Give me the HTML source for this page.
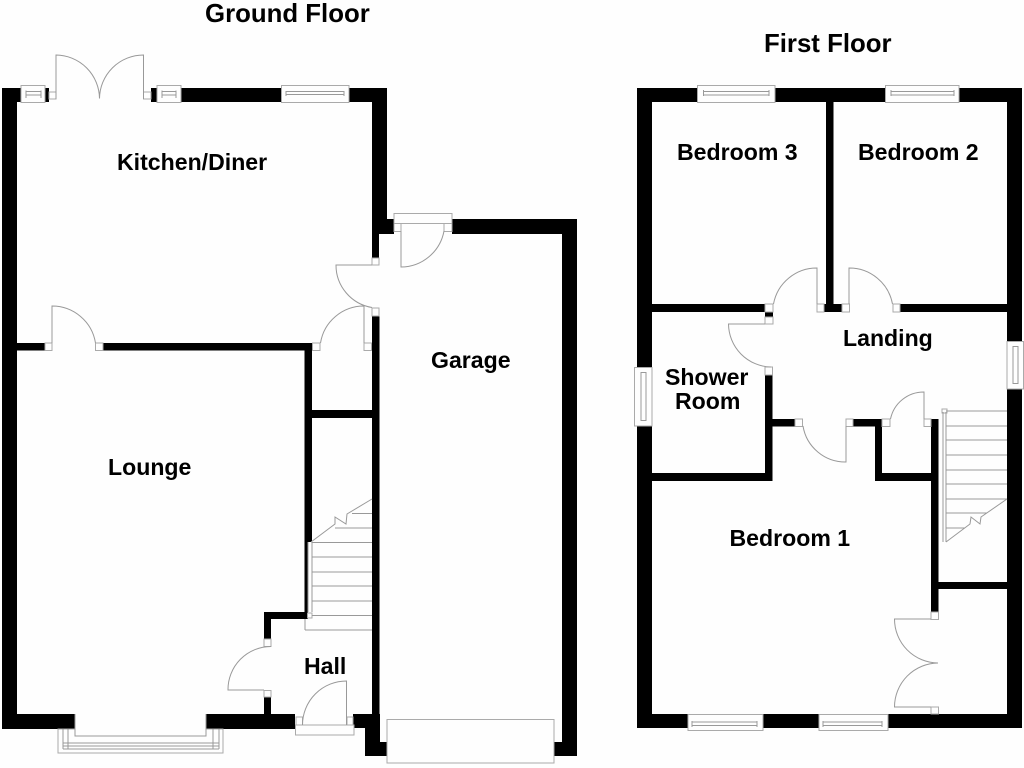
<!DOCTYPE html>
<html><head><meta charset="utf-8"><style>
html,body{margin:0;padding:0;background:#fefefe}
svg{display:block}
text{font-family:"Liberation Sans",Arial,sans-serif;font-weight:bold;font-size:23.1px;fill:#000}
.t{font-size:25.8px}
.k{fill:#000;stroke:none}
.l{fill:none;stroke:#999;stroke-width:1}
.w{fill:#fefefe;stroke:#aaa;stroke-width:1}
</style></head><body>
<svg width="1024" height="768" viewBox="0 0 1024 768" xmlns="http://www.w3.org/2000/svg">
<rect width="1024" height="768" fill="#fefefe"/>
<text class="t" x="205" y="22">Ground Floor</text>
<text class="t" x="764" y="52">First Floor</text>
<text x="117" y="170">Kitchen/Diner</text>
<text x="108" y="475">Lounge</text>
<text x="431" y="368">Garage</text>
<text x="304" y="674">Hall</text>
<text x="677" y="160">Bedroom 3</text>
<text x="858" y="160">Bedroom 2</text>
<text x="843" y="346">Landing</text>
<text x="665" y="385">Shower</text>
<text x="675" y="409">Room</text>
<text x="729.5" y="546">Bedroom 1</text>

<g class="k">
<!-- ground floor walls -->
<rect x="2" y="88" width="15" height="641"/>
<rect x="2" y="88" width="19" height="14"/>
<rect x="45" y="88" width="4" height="14"/>
<rect x="151" y="88" width="6" height="14"/>
<rect x="181" y="88" width="100" height="14"/>
<rect x="349" y="88" width="38" height="14"/>
<rect x="372" y="88" width="15" height="146"/>
<rect x="372" y="219" width="22" height="15"/>
<rect x="372" y="219" width="7" height="39"/>
<rect x="372" y="316" width="7.5" height="412"/>
<rect x="17" y="343" width="28" height="7.5"/>
<rect x="103" y="343" width="209" height="7.5"/>
<rect x="304.500" y="343" width="7.500" height="199"/>
<rect x="304.500" y="542" width="3.500" height="77"/>
<rect x="312" y="410" width="60" height="8"/>
<rect x="264" y="612" width="41" height="7"/>
<rect x="264" y="612" width="7" height="27"/>
<rect x="264" y="697" width="7" height="17"/>
<rect x="2" y="714" width="73" height="15"/>
<rect x="206" y="714" width="89" height="15"/>
<rect x="353" y="714" width="26" height="14"/>
<rect x="365" y="714" width="15" height="42"/>
<rect x="365" y="742" width="22" height="14"/>
<rect x="554" y="742" width="23" height="14"/>
<rect x="562" y="219" width="15" height="537"/>
<rect x="452" y="219" width="125" height="15"/>
<!-- first floor walls -->
<rect x="637" y="88" width="15" height="279"/>
<rect x="637" y="426" width="15" height="302"/>
<rect x="637" y="88" width="60" height="14"/>
<rect x="775" y="88" width="110" height="14"/>
<rect x="959" y="88" width="63" height="14"/>
<rect x="1007" y="88" width="15" height="253"/>
<rect x="1007" y="389" width="15" height="339"/>
<rect x="826" y="88" width="7.500" height="216"/>
<rect x="824" y="304" width="18" height="8"/>
<rect x="652" y="304" width="113" height="8"/>
<rect x="765" y="312" width="8" height="5"/>
<rect x="900" y="304" width="107" height="8"/>
<rect x="765" y="375" width="7.500" height="106"/>
<rect x="652" y="473" width="120.500" height="8"/>
<rect x="772" y="419" width="23" height="7.500"/>
<rect x="853" y="419" width="29" height="7.500"/>
<rect x="875" y="419" width="7" height="62"/>
<rect x="875" y="473" width="63" height="8"/>
<rect x="931" y="419" width="7.500" height="193"/>
<rect x="938" y="582" width="69" height="7"/>
<rect x="637" y="714" width="51" height="14"/>
<rect x="763" y="714" width="56" height="14"/>
<rect x="888" y="714" width="134" height="14"/>
</g>

<g class="w">
<!-- jambs ground -->
<rect x="49" y="92" width="7" height="7"/>
<rect x="143.500" y="92" width="7.500" height="7"/>
<rect x="372" y="258" width="7" height="7"/>
<rect x="372" y="308" width="7" height="8"/>
<rect x="45" y="343" width="7" height="7.500"/>
<rect x="95.500" y="343" width="7.500" height="7.500"/>
<rect x="312.500" y="343" width="7.500" height="7.500"/>
<rect x="364" y="343" width="7.500" height="7.500"/>
<rect x="264" y="639" width="7" height="7.500"/>
<rect x="264" y="690.500" width="7" height="6.500"/>
<rect x="296" y="717" width="6.500" height="8"/>
<rect x="347" y="717" width="6" height="8"/>
<rect x="295.500" y="725" width="58.500" height="10"/>
<rect x="394" y="213.500" width="58" height="10"/>
<rect x="394" y="223.500" width="7" height="8"/>
<rect x="444" y="223.500" width="8" height="8"/>
<rect x="387" y="719.500" width="167" height="43.500"/>
<!-- jambs first -->
<rect x="765" y="304" width="8" height="8"/>
<rect x="765" y="317" width="8" height="7"/>
<rect x="765" y="367" width="7.500" height="8"/>
<rect x="817" y="304" width="7" height="8"/>
<rect x="842" y="304" width="7.500" height="8"/>
<rect x="893" y="304" width="7" height="8"/>
<rect x="795" y="419" width="7.500" height="7.500"/>
<rect x="846" y="419" width="7" height="7.500"/>
<rect x="882" y="419" width="8" height="7.500"/>
<rect x="924" y="419" width="7" height="7.500"/>
<rect x="931" y="612" width="7.500" height="7.500"/>
<rect x="931" y="707" width="7.500" height="7"/>
<rect x="942" y="409" width="5" height="4"/>
<rect x="307.500" y="613" width="4.500" height="5"/>
<!-- windows top ground -->
<rect x="21" y="85.500" width="24" height="17"/>
<rect x="157" y="85.500" width="24" height="17"/>
<rect x="281.500" y="85.500" width="67.500" height="17"/>
<!-- windows first -->
<rect x="697.500" y="85.500" width="77.500" height="17"/>
<rect x="885.500" y="85.500" width="73.500" height="17"/>
<rect x="688" y="714.500" width="75" height="16"/>
<rect x="819" y="714.500" width="69" height="16"/>
<rect x="634.500" y="367.500" width="17.500" height="58.500"/>
<rect x="1007" y="341.500" width="16.500" height="47.500"/>
<!-- bay -->
<rect x="58" y="729" width="165" height="24"/>
<rect x="75" y="714" width="131" height="22" stroke="none"/>
</g>

<g class="l">
<!-- window inner details -->
<path d="M26 90.500V98M41 90.500V98M26 91.500H41M26 95H41"/>
<path d="M162 90.500V98M176 90.500V98M162 91.500H176M162 95H176"/>
<path d="M286 91V96M344 91V96M286 91.500H344M286 94.500H344"/>
<path d="M703.500 90V96M769 90V96M703.500 91.500H769M703.500 95H769"/>
<path d="M891 90V96M954 90V96M891 91.500H954M891 95H954"/>
<path d="M692 721V727M757 721V727M692 722H757M692 725.500H757"/>
<path d="M823 721V727M882 721V727M823 722H882M823 725.500H882"/>
<path d="M641 372V421M646 372V421M641 372.500H646M641 420.500H646"/>
<path d="M1013 346V384M1018 346V384M1013 346.500H1018M1013 383.500H1018"/>
<!-- bay detail -->
<path d="M75 714V736H206V714"/>
<path d="M63 729V749M68 729V749M213 729V749M219 729V749M63 743H219M63 746H219M63 749H219"/>
<!-- doors ground -->
<path d="M56 99V55A44 44 0 0 1 99.500 98.500"/>
<path d="M143.500 99V55A44 44 0 0 0 99.500 98.500"/>
<path d="M372 265H336A43 43 0 0 0 372 307.500"/>
<path d="M52 343V306A44 44 0 0 1 95.500 343"/>
<path d="M364 343V306A44 44 0 0 0 320.500 343"/>
<path d="M264 690H228A43 43 0 0 1 271 646.500"/>
<path d="M346.500 725V681A44 44 0 0 0 302.500 725"/>
<path d="M401 231V267A44 44 0 0 0 444 231"/>
<!-- stairs ground -->
<path d="M308 542V612M312 542V612"/>
<path d="M311 542L335 524L335 517L346 524L347 514L372 499"/>
<path d="M352 513.500H372M335 528H372M312 542.500H372M312 557H372M312 572H372M312 586H372M312 601H372M312 615.500H372M305 630H372M305 619V630"/>
<!-- doors first -->
<path d="M817 304V268A44 44 0 0 0 773.500 304"/>
<path d="M849 304V268A44 44 0 0 1 892.500 304"/>
<path d="M765 324H728.500A43.500 43.500 0 0 0 771 367"/>
<path d="M846 426V462A43 43 0 0 1 803 426"/>
<path d="M924 419V392A34 34 0 0 0 890.500 419"/>
<path d="M931 619H894.500A44 44 0 0 0 938 663A44 44 0 0 0 894.500 707H931"/>
<!-- stairs first -->
<path d="M943 412V542M946 412V542"/>
<path d="M946 542L970 524L971 517L980 524L981 517L1007 499"/>
<path d="M946 411H1007M946 426H1007M946 440H1007M946 455H1007M946 470H1007M946 484H1007M946 499H1007M946 513H987M946 528H965"/>
</g>
</svg>
</body></html>
